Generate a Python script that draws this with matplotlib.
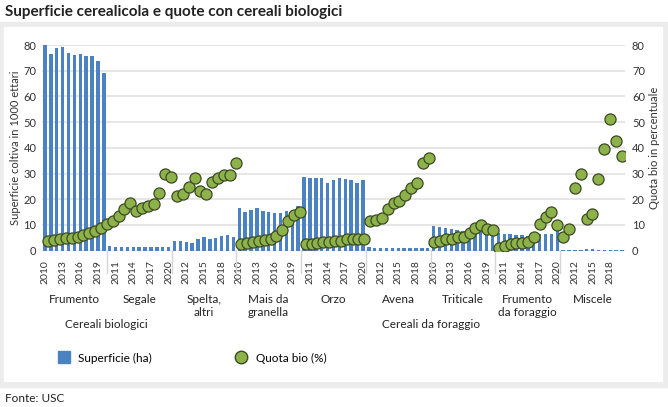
import numpy as np
import matplotlib
matplotlib.use("Agg")
import matplotlib.pyplot as plt
import matplotlib.transforms as mtransforms
from matplotlib.patches import Rectangle
from matplotlib.lines import Line2D

# ---------- dati ----------
years = list(range(2010, 2021))
gruppi = ["Frumento", "Segale", "Spelta,\naltri", "Mais da\ngranella", "Orzo",
          "Avena", "Triticale", "Frumento\nda foraggio", "Miscele"]
macro = ["Cereali biologici", "Cereali da foraggio"]

# superficie (1000 ha)
sup_frumento = [80.0, 76.6, 78.7, 79.2, 77.0, 76.1, 76.6, 75.7, 75.7, 73.8, 69.2]
sup_segale = [1.8, 1.4, 1.3, 1.4, 1.4, 1.4, 1.4, 1.6, 1.4, 1.4, 1.4]
sup_spelta = [3.9, 3.9, 3.5, 2.9, 4.4, 5.3, 4.6, 5.0, 5.7, 6.1, 5.2]
sup_mais = [16.5, 15.2, 15.9, 16.5, 15.5, 15.0, 14.7, 14.7, 15.5, 15.4, 17.2]
sup_orzo = [28.7, 28.1, 28.1, 28.3, 26.5, 27.6, 28.3, 27.9, 27.6, 26.5, 27.6]
sup_avena = [1.3, 1.0, 1.0, 1.0, 0.9, 1.0, 1.0, 1.2, 1.0, 1.0, 1.2]
sup_triticale = [9.8, 9.2, 9.0, 8.5, 8.0, 7.6, 7.5, 7.9, 7.8, 7.2, 6.5]
sup_frum_for = [6.8, 6.6, 6.4, 6.2, 6.1, 5.9, 5.9, 6.4, 6.4, 6.5, 9.0]
sup_miscele = [0.1, 0.1, 0.1, 0.1, 0.6, 0.5, 0.1, 0.1, 0.1, 0.1, 0.1]

# quota bio (%)
bio_frumento = [3.7, 4.2, 4.7, 4.8, 5.0, 5.5, 6.0, 6.8, 7.5, 8.7, 10.5]
bio_segale = [11.4, 13.6, 16.3, 18.4, 15.5, 16.5, 17.3, 18.0, 22.5, 29.8, 28.6]
bio_spelta = [21.1, 22.1, 24.7, 28.1, 23.3, 22.1, 26.7, 28.1, 29.3, 29.5, 34.3]
bio_mais = [2.8, 3.0, 3.4, 3.8, 4.3, 4.6, 5.9, 8.2, 11.6, 13.8, 15.2]
bio_orzo = [2.8, 2.8, 3.0, 3.4, 3.5, 3.9, 3.9, 4.5, 4.4, 4.4, 4.5]
bio_avena = [11.6, 12.1, 12.9, 16.1, 18.5, 19.4, 21.7, 24.2, 26.3, 34.1, 36.0]
bio_triticale = [3.3, 3.9, 4.6, 4.6, 5.2, 5.4, 6.7, 8.7, 9.9, 8.4, 8.0]
bio_frum_for = [1.1, 1.9, 2.6, 2.9, 2.9, 3.2, 5.2, 10.2, 13.2, 15.0, 10.0]
bio_miscele = [5.3, 8.6, 24.4, 29.9, 12.5, 14.2, 27.7, 39.4, 51.2, 42.5, 36.7]

superficie = (sup_frumento + sup_segale + sup_spelta + sup_mais + sup_orzo
              + sup_avena + sup_triticale + sup_frum_for + sup_miscele)
quota = (bio_frumento + bio_segale + bio_spelta + bio_mais + bio_orzo
         + bio_avena + bio_triticale + bio_frum_for + bio_miscele)

# ---------- figura ----------
W, H = 668, 407
plt.rcParams["font.family"] = ["Lato", "DejaVu Sans"]
fig = plt.figure(figsize=(W / 100, H / 100), dpi=100)


def fx(x):
    return x / W


def fy(y):
    return 1 - y / H


# cornice grigia
fig.patches.append(Rectangle((0, fy(387)), 1, fy(22) - fy(387), transform=fig.transFigure,
                             color="#ececec", zorder=-10))
fig.patches.append(Rectangle((fx(4), fy(381)), fx(662) - fx(4), fy(27) - fy(381),
                             transform=fig.transFigure, color="white", zorder=-9))

fig.text(fx(5), fy(12), "Superficie cerealicola e quote con cereali biologici",
         fontsize=11, fontweight="bold", color="#222222", va="center", ha="left")
fig.text(fx(5), fy(398), "Fonte: USC", fontsize=8.5, color="#222222", va="center")

ax = fig.add_axes([fx(42), fy(250.7), fx(625) - fx(42), fy(45) - fy(250.7)])
ax.set_facecolor("none")
n = len(superficie)
idx = np.arange(n)
ax.bar(idx, superficie, width=0.6, color="#4a82c3", zorder=2)

ax2 = ax.twinx()
x_dots = np.linspace(0.57, 97.94, n)
ax2.scatter(x_dots, quota, s=64, color="#8db24a", edgecolor="#3c4a25", linewidth=0.9, zorder=3)

for a in (ax, ax2):
    a.set_ylim(0, 80)
    a.set_xlim(-0.5, n - 0.5)
    for s in a.spines.values():
        s.set_visible(False)
    a.tick_params(length=0, labelsize=8, colors="#333333")
    a.set_yticks(range(0, 81, 10))

ax.yaxis.grid(True, color="#e6e6e6", linewidth=1.4, zorder=0)
ax.set_axisbelow(True)
ax.set_xticks(idx[::3])
ax.set_xticklabels([str(years[i % 11]) for i in idx[::3]], rotation=90, fontsize=7.5,
                   color="#333333")
ax.tick_params(axis="x", pad=7)
ax.tick_params(axis="y", pad=4)
ax2.tick_params(axis="y", pad=5)

ax.set_ylabel("Superficie coltiva in 1000 ettari", fontsize=8, color="#333333", labelpad=2)
ax2.set_ylabel("Quota bio in percentuale", fontsize=8, color="#333333", labelpad=3)

# separatori dei gruppi
trans = mtransforms.blended_transform_factory(ax.transData, ax.transAxes)
for k in range(1, 9):
    ax.plot([11 * k - 0.5] * 2, [0, -22 / 205.7], transform=trans, color="#d6d6d6",
            linewidth=1, clip_on=False)

# etichette dei gruppi
for k, g in enumerate(gruppi):
    cx = 11 * k + 5
    ax.text(cx, -43 / 205.7, g, transform=trans, ha="center", va="top", fontsize=8.5,
            color="#222222", linespacing=1.25)
ax.text(11 * 0.5 + 5, -68 / 205.7, macro[0], transform=trans, ha="center", va="top",
        fontsize=8.5, color="#222222")
ax.text(11 * 5.5 + 5, -68 / 205.7, macro[1], transform=trans, ha="center", va="top",
        fontsize=8.5, color="#222222")

# legenda
handles = [Line2D([], [], marker="s", linestyle="none", markersize=9, color="#4a82c3"),
           Line2D([], [], marker="o", linestyle="none", markersize=9, markerfacecolor="#8db24a",
                  markeredgecolor="#3c4a25")]
fig.legend(handles, ["Superficie (ha)", "Quota bio (%)"], loc="center left",
           bbox_to_anchor=(fx(46), fy(358)), ncol=2, frameon=False, fontsize=8.5,
           columnspacing=7, handletextpad=0.6, handlelength=1.2)

fig.savefig("out.png", dpi=100)
